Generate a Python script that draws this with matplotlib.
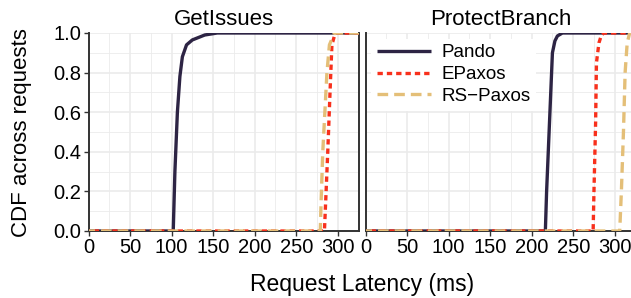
import matplotlib
matplotlib.use("Agg")
import matplotlib.pyplot as plt
import numpy as np

plt.rcParams['font.family'] = ['Liberation Sans', 'DejaVu Sans']

panels = ["GetIssues", "ProtectBranch"]
systems = ["Pando", "EPaxos", "RS\u2212Paxos"]

# latency (ms) / CDF points per panel and system
getissues_pando_x = [-5, 102, 104, 107, 110, 113, 118, 125, 140, 155, 340]
getissues_pando_y = [0, 0, 0.30, 0.60, 0.78, 0.88, 0.94, 0.965, 0.99, 1.0, 1.0]
getissues_epaxos_x = [-5, 284, 286, 288, 291, 293, 297, 340]
getissues_epaxos_y = [0, 0, 0.2, 0.4, 0.73, 0.94, 1.0, 1.0]
getissues_rs_x = [-5, 279, 280, 282, 287, 290, 296, 340]
getissues_rs_y = [0, 0, 0.15, 0.4, 0.8, 0.94, 1.0, 1.0]

protect_pando_x = [-5, 216.5, 218, 221, 225, 228, 231, 237, 340]
protect_pando_y = [0, 0, 0.2, 0.5, 0.9, 0.96, 0.985, 1.0, 1.0]
protect_epaxos_x = [-5, 274, 275, 277, 278, 281, 284, 287, 340]
protect_epaxos_y = [0, 0, 0.2, 0.55, 0.85, 0.95, 0.99, 1.0, 1.0]
protect_rs_x = [-5, 306, 308, 310.5, 312.5, 315, 318, 340]
protect_rs_y = [0, 0, 0.2, 0.5, 0.8, 0.95, 1.0, 1.0]

data = {
    "GetIssues": [(getissues_pando_x, getissues_pando_y),
                  (getissues_epaxos_x, getissues_epaxos_y),
                  (getissues_rs_x, getissues_rs_y)],
    "ProtectBranch": [(protect_pando_x, protect_pando_y),
                      (protect_epaxos_x, protect_epaxos_y),
                      (protect_rs_x, protect_rs_y)],
}

colors = ["#2d2444", "#f8301c", "#e4bf78"]
styles = [dict(linestyle="-"),
          dict(linestyle=(0, (1.6, 1.2))),
          dict(linestyle=(0, (3.2, 1.8)))]
lw = 2.4

xticks = [0, 50, 100, 150, 200, 250, 300]
yticks = [0.0, 0.2, 0.4, 0.6, 0.8, 1.0]

W, H = 631, 298
fig = plt.figure(figsize=(W / 100, H / 100), dpi=100)

dark = "#333333"
grid_c = "#ebebeb"
axes = []
for i, name in enumerate(panels):
    left_px = 88.5 if i == 0 else 365.5
    ax = fig.add_axes([left_px / W, (H - 231) / H, 270 / W, 198 / H])
    axes.append(ax)
    ax.set_xlim(0, 325)
    ax.set_ylim(0, 1)
    ax.set_xticks(xticks)
    ax.set_xticks(np.arange(25, 325, 50), minor=True)
    ax.set_yticks(yticks)
    ax.set_yticks(np.arange(0.1, 1.0, 0.2), minor=True)
    ax.grid(True, which="major", color=grid_c, linewidth=1.2, zorder=0)
    ax.grid(True, which="minor", color=grid_c, linewidth=0.6, zorder=0)
    ax.set_axisbelow(True)
    ax.tick_params(axis="both", which="minor", length=0)
    ax.tick_params(axis="both", which="major", length=3.5, width=1.0,
                   color=dark, labelsize=14.5, labelcolor="black", pad=1.5)
    ax.spines["top"].set_visible(False)
    for s in ["left", "bottom", "right"]:
        ax.spines[s].set_color(dark)
        ax.spines[s].set_linewidth(1.4)
    if i == 1:
        ax.tick_params(axis="y", which="both", left=False, labelleft=False)
    else:
        ax.set_yticklabels([f"{v:.1f}" for v in yticks])
    for (xs, ys), c, st, lab in zip(data[name], colors, styles, systems):
        ax.plot(xs, ys, color=c, linewidth=lw, label=lab, zorder=3,
                solid_capstyle="butt", dash_capstyle="butt", **st)
    ax.set_title(name, fontsize=16, pad=6)

leg = axes[1].legend(loc="upper left", fontsize=13.5, frameon=True,
                     fancybox=False, edgecolor="none", facecolor="white",
                     framealpha=1.0, borderpad=0.3, handlelength=2.9,
                     handletextpad=0.55, labelspacing=0.25,
                     borderaxespad=0.3)

fig.text(362 / W, 1 - 285 / H, "Request Latency (ms)", fontsize=16.5,
         ha="center", va="center")
fig.text(22 / W, 1 - 133 / H, "CDF across requests", fontsize=16,
         ha="center", va="center", rotation=90)

fig.savefig("out.png", dpi=100)
